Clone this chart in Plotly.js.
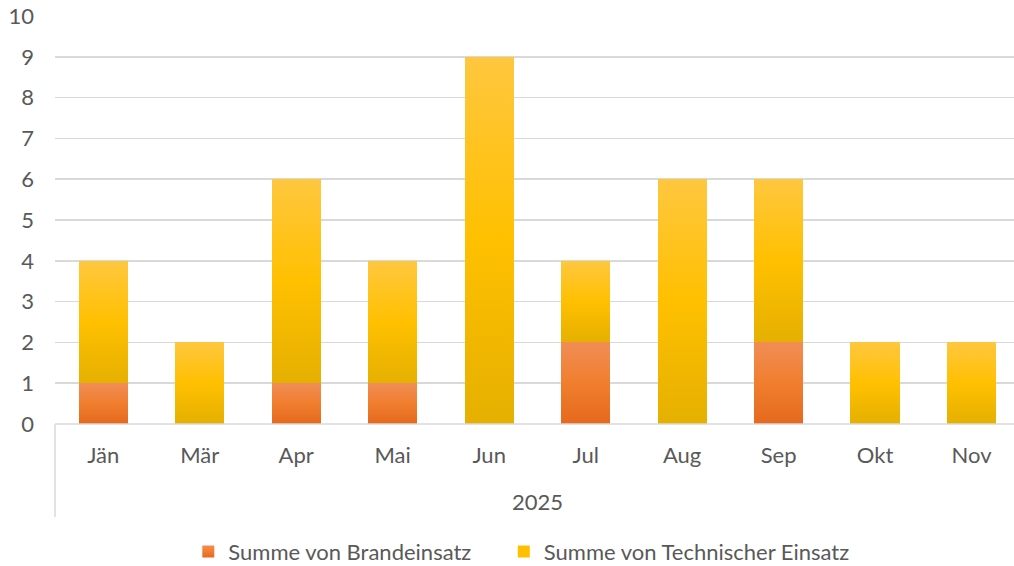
<!DOCTYPE html>
<html>
<head>
<meta charset="utf-8">
<script src="https://cdn.plot.ly/plotly-3.0.1.min.js"></script>
<style>html,body{margin:0;padding:0;background:#fff;}#chart{width:1014px;height:566px;}</style>
</head>
<body>
<div id="chart"></div>
<script>
const months = ["Jän","Mär","Apr","Mai","Jun","Jul","Aug","Sep","Okt","Nov"];
const yearLabel = "2025";
const brandeinsatz = [1,0,1,1,0,2,0,2,0,0];
const technischerEinsatz = [3,2,5,3,9,2,6,4,2,2];
const seriesNames = ["Summe von Brandeinsatz","Summe von Technischer Einsatz"];

const FONT = "Lato, 'Open Sans', sans-serif";
const TXT = "#595959";
const FS = 22;

const traces = [
  {type:"bar", x:months, y:brandeinsatz, name:seriesNames[0], legend:"legend",
   marker:{color:"#ED7D31", line:{width:0}}, hoverinfo:"y"},
  {type:"bar", x:months, y:technischerEinsatz, name:seriesNames[1], legend:"legend2",
   marker:{color:"#FFC000", line:{width:0}}, hoverinfo:"y"}
];

const legendBase = {orientation:"h", xanchor:"left", y:-0.313, yanchor:"middle",
  font:{size:FS, color:TXT}, itemwidth:20, bgcolor:"rgba(0,0,0,0)"};

const layout = {
  width:1014, height:566,
  margin:{l:55, r:0, t:16, b:142, autoexpand:false},
  barmode:"stack", bargap:0.49,
  paper_bgcolor:"#fff", plot_bgcolor:"#fff",
  font:{family:FONT, color:TXT, size:FS},
  xaxis:{type:"category", range:[-0.5, 9.44], showgrid:false, zeroline:false,
         showline:false, ticks:"", tickfont:{size:FS, color:TXT}, ticklabelstandoff:16, fixedrange:true, automargin:false},
  yaxis:{range:[0,10], dtick:1, showgrid:true, gridcolor:"#D9D9D9", gridwidth:1.5,
         zeroline:false, showline:false, ticks:"", tickfont:{size:FS, color:TXT}, ticklabelstandoff:20, fixedrange:true, automargin:false},
  showlegend:true,
  legend:Object.assign({}, legendBase, {x:0.139}),
  legend2:Object.assign({}, legendBase, {x:0.468}),
  annotations:[
    {xref:"paper", yref:"paper", x:0.503, y:-0.19, yanchor:"middle", text:yearLabel, showarrow:false,
     font:{size:FS, color:TXT}}
  ],
  shapes:[
    {type:"line", xref:"paper", yref:"paper", x0:0, x1:1, y0:0, y1:0, line:{color:"#D9D9D9", width:1.5}},
    {type:"line", xref:"paper", yref:"paper", x0:0, x1:0, y0:0, y1:-0.228, line:{color:"#D9D9D9", width:1.5}}
  ]
};

Plotly.newPlot("chart", traces, layout, {displayModeBar:false, staticPlot:true}).then(function(gd){
  const svg = gd.querySelector("svg.main-svg");
  const ns = "http://www.w3.org/2000/svg";
  let defs = svg.querySelector("defs");
  if(!defs){defs = document.createElementNS(ns,"defs"); svg.insertBefore(defs, svg.firstChild);}
  function grad(id, stops){
    const g = document.createElementNS(ns,"linearGradient");
    g.setAttribute("id",id); g.setAttribute("x1","0"); g.setAttribute("y1","0");
    g.setAttribute("x2","0"); g.setAttribute("y2","1");
    stops.forEach(function(s){
      const st = document.createElementNS(ns,"stop");
      st.setAttribute("offset",s[0]); st.setAttribute("stop-color",s[1]);
      g.appendChild(st);
    });
    defs.appendChild(g);
  }
  grad("gOrange",[["0","#F18D55"],["0.5","#F07E2E"],["1","#E5691E"]]);
  grad("gYellow",[["0","#FFC73F"],["0.5","#FFC000"],["1","#E5B000"]]);
  const traceEls = gd.querySelectorAll(".barlayer .trace");
  const ids = ["gOrange","gYellow"];
  traceEls.forEach(function(t,i){
    t.querySelectorAll("path").forEach(function(p){ p.style.fill = "url(#"+ids[i]+")"; });
  });
  gd.querySelectorAll(".legend").forEach(function(lg,i){
    lg.querySelectorAll(".legendpoints path").forEach(function(p){ p.style.fill = "url(#"+ids[i]+")"; });
  });
});
</script>
</body>
</html>
